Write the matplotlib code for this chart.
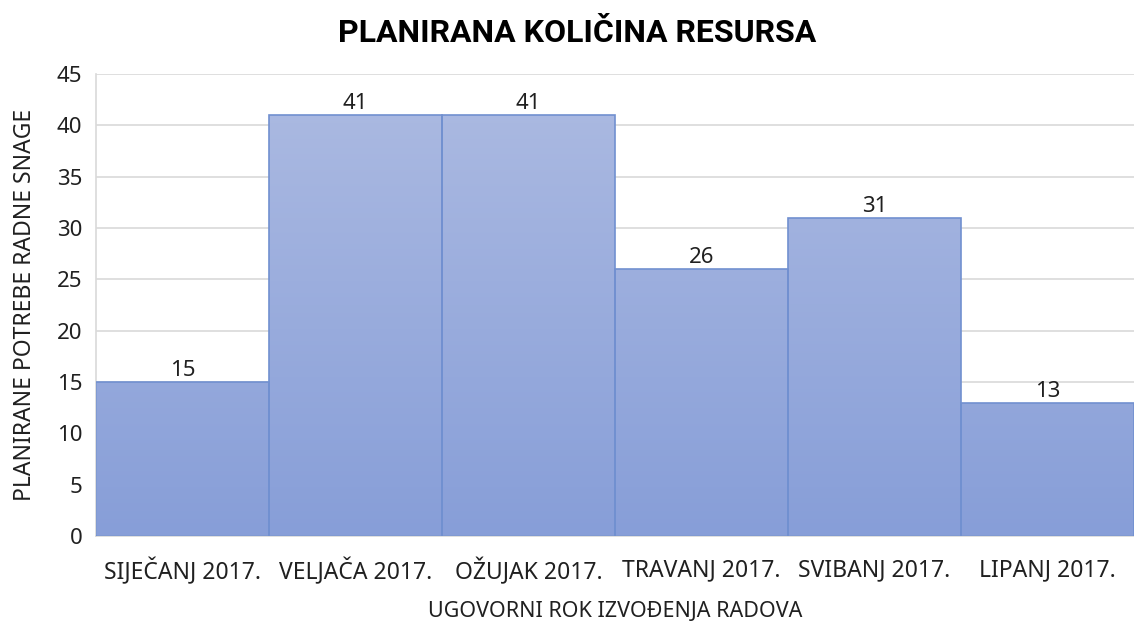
import numpy as np
import matplotlib.pyplot as plt
from matplotlib.colors import LinearSegmentedColormap

plt.rcParams['font.family'] = ['Noto Sans', 'DejaVu Sans']

# data
months = ["SIJEČANJ 2017.", "VELJAČA 2017.", "OŽUJAK 2017.",
          "TRAVANJ 2017.", "SVIBANJ 2017.", "LIPANJ 2017."]
workers = [15, 41, 41, 26, 31, 13]

fig = plt.figure(figsize=(11.34, 6.28), dpi=100)
ax = fig.add_axes([0.0847, 0.1465, 0.9153, 0.7355])

x = np.arange(len(months))
bars = ax.bar(x, workers, width=1.0, color="none", edgecolor="#7190d0",
              linewidth=1.2, zorder=3)

# vertical gradient, light at top, darker at bottom
cmap = LinearSegmentedColormap.from_list("grad", ["#879ed8", "#adbbe2"])
grad = np.linspace(0, 1, 256).reshape(-1, 1)
for b in bars:
    x0, w, h = b.get_x(), b.get_width(), b.get_height()
    im = ax.imshow(grad, cmap=cmap, origin="lower", aspect="auto",
                   extent=[x0, x0 + w, 0, 45], zorder=2)
    im.set_clip_path(b)

for xi, v in zip(x, workers):
    ax.text(xi, v + 0.1, str(v), ha="center", va="bottom", fontsize=16,
            color="#202020", zorder=4)

ax.set_xlim(-0.5, len(months) - 0.5)
ax.set_ylim(0, 45)
ax.set_yticks(np.arange(0, 46, 5))
ax.set_xticks(x)
ax.set_xticklabels(months, fontsize=16.5, color="#202020")
ax.tick_params(axis="y", labelsize=16, colors="#202020", length=0, pad=10)
ax.tick_params(axis="x", length=0, pad=16)
ax.grid(axis="y", color="#d9d9d9", linewidth=1.2, zorder=0)
ax.set_axisbelow(True)
for s in ["top", "right"]:
    ax.spines[s].set_visible(False)
ax.spines["left"].set_color("#d9d9d9")
ax.spines["bottom"].set_color("#d9d9d9")
ax.spines["left"].set_linewidth(1.2)
ax.spines["bottom"].set_linewidth(1.2)

ax.set_ylabel("PLANIRANE POTREBE RADNE SNAGE", fontsize=16.5, color="#202020",
              labelpad=14)
ax.set_xlabel("UGOVORNI ROK IZVOĐENJA RADOVA", fontsize=15.5, color="#202020",
              labelpad=11)

fig.text(0.509, 0.948, "PLANIRANA KOLIČINA RESURSA", ha="center", va="center",
         fontsize=23, fontweight="bold", family=['Roboto', 'DejaVu Sans'],
         color="black")

fig.savefig("out.png", dpi=100)
